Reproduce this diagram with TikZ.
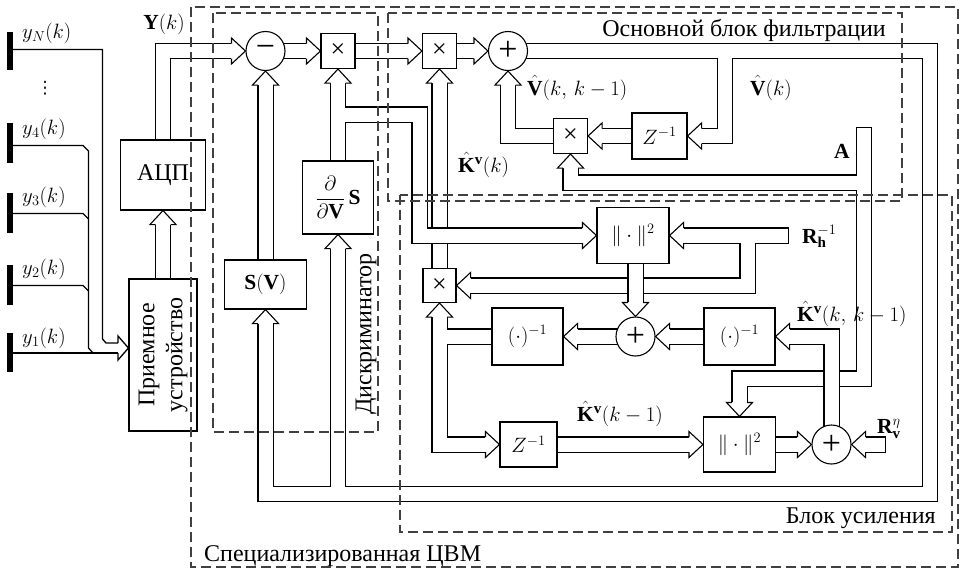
\documentclass[tikz,border=0pt]{standalone}
\usepackage{fontspec}
\setmainfont{Liberation Serif}
\newfontfamily\dejavu{DejaVu Sans}
\usetikzlibrary{calc}
\pgfdeclarelayer{fg}
\pgfdeclarelayer{top}
\pgfsetlayers{main,fg,top}
\tikzset{
  box/.style={draw, fill=white, line width=1.1pt, inner sep=0pt, rectangle},
  mul/.style={box, minimum width=34pt, minimum height=35pt, font=\fontsize{26}{26}\selectfont},
  circ/.style={draw, fill=white, line width=1.1pt, circle, minimum size=39pt, inner sep=0pt, font=\fontsize{34}{34}\selectfont},
  busout/.style={line width=16.2pt, draw=black, line join=miter},
  busin/.style={line width=14pt, draw=white, line join=miter},
  dbox/.style={draw=black!75, line width=1.1pt, dash pattern=on 10pt off 5pt},
  rtext/.style={font=\fontsize{24}{28}\selectfont},
  lbl/.style={inner sep=1pt},
  inline/.style={line width=1.3pt},
  pics/ahead/.style={code={\draw[fill=white, line width=1.1pt, line join=miter] (-14,7.5) -- (-14,13) -- (0,0) -- (-14,-13) -- (-14,-7.5);}},
}
\newcommand\bus[1]{\draw[busout] #1; \draw[busin] #1;}
\begin{document}
\begin{tikzpicture}[x=1pt, y=-1pt, line width=1.1pt, font=\fontsize{21.5}{24}\selectfont]
\useasboundingbox (0,0) rectangle (961,568);

\begin{pgfonlayer}{fg}
\node[circ] (c1) at (265.5,51) {−};
\node[mul] (m1) at (338,51) {×};
\node[mul] (m2) at (439.5,51) {×};
\node[circ] (c2) at (508,51) {+};
\node[box, minimum width=55pt, minimum height=46pt] (z1) at (659.5,136) {$Z^{-1}$};
\node[mul] (m3) at (570.5,136) {×};
\node[box, minimum width=85pt, minimum height=70pt, rtext] (adc) at (163,175) {АЦП};
\node[box, rotate=90, minimum width=152pt, minimum height=68pt, align=center, rtext] (rx) at (163,355) {Приемное\\устройство};
\node[box, minimum width=82pt, minimum height=49pt] (sv) at (265.5,284.5) {$\mathbf{S}(\mathbf{V})$};
\node[box, minimum width=71pt, minimum height=73pt] (ds) at (338,197.5) {$\displaystyle\frac{\partial}{\partial\mathbf{V}}\,\mathbf{S}$};
\node[box, minimum width=72pt, minimum height=56pt] (n1) at (633,235.5) {$\|\cdot\|^2$};
\node[mul, minimum width=33pt, minimum height=34pt] (m4) at (439.5,285.5) {×};
\node[circ] (c3) at (635.5,336.5) {+};
\node[box, minimum width=71pt, minimum height=57pt] (i1) at (527.5,336.5) {$(\cdot)^{-1}$};
\node[box, minimum width=71pt, minimum height=57pt] (i2) at (739.5,336.5) {$(\cdot)^{-1}$};
\node[box, minimum width=57pt, minimum height=45pt] (z2) at (528.5,444.5) {$Z^{-1}$};
\node[box, minimum width=72pt, minimum height=55pt] (n2) at (739.5,444.5) {$\|\cdot\|^2$};
\node[circ] (c4) at (831.5,444.5) {+};

% labels
\node[lbl] (lY) at (164,24) {$\mathbf{Y}(k)$};
\node[lbl, anchor=base west] (lyN) at (21,38) {$y_N(k)$};
\node[lbl, font=\dejavu\fontsize{17}{17}\selectfont] (ldots) at (45,88) {⋮};
\node[lbl, anchor=base west] (ly4) at (21,134) {$y_4(k)$};
\node[lbl, anchor=base west] (ly3) at (21,202) {$y_3(k)$};
\node[lbl, anchor=base west] (ly2) at (21,274) {$y_2(k)$};
\node[lbl, anchor=base west] (ly1) at (21,343) {$y_1(k)$};
\node[lbl, anchor=base west] (lVp) at (526,95) {$\hat{\mathbf{V}}(k,\,k-1)$};
\node[lbl, anchor=base west] (lV) at (749,95) {$\hat{\mathbf{V}}(k)$};
\node[lbl, anchor=base west] (lA) at (833,158) {$\mathbf{A}$};
\node[lbl, anchor=base west] (lK) at (457,172) {$\hat{\mathbf{K}}^{\mathbf{v}}(k)$};
\node[lbl, anchor=base west] (lRh) at (801,243) {$\mathbf{R}_{\mathbf{h}}^{-1}$};
\node[lbl, anchor=base west] (lKp) at (796,321) {$\hat{\mathbf{K}}^{\mathbf{v}}(k,\,k-1)$};
\node[lbl, anchor=base west] (lKm) at (576,421) {$\hat{\mathbf{K}}^{\mathbf{v}}(k-1)$};
\node[lbl, anchor=base west] (lRv) at (876,433) {$\mathbf{R}_{\mathbf{v}}^{\eta}$};
\node[lbl, anchor=base west, rtext] (tcvm) at (203,561) {Специализированная ЦВМ};
\node[lbl, anchor=base east, rtext] (tfil) at (887,36) {Основной блок фильтрации};
\node[lbl, anchor=base east, rtext] (tgain) at (937,523) {Блок усиления};
\node[lbl, rotate=90, rtext] (tdisc) at (366,334) {Дискриминатор};
\end{pgfonlayer}

% antennas and input lines
\foreach \a/\b in {32/70, 123/163, 193/233, 265/305, 333/372} \draw[line width=6pt] (10,\a) -- (10,\b);
\coordinate (rxin) at ([yshift=7pt]rx.north);
\draw[inline] (10,49.5) -- (102.5,49.5) -- (102.5,339) -- (106,343) -- (118,343);
\draw[inline] (10,145.5) -- (83,145.5) -- (88.5,151) -- (88.5,348) -- (93,353);
\draw[inline] (10,213.5) -- (83,213.5) -- (88.5,219);
\draw[inline] (10,285.5) -- (83,285.5) -- (88.5,291);
\draw[inline] (10,353) -- (118,353);
\draw[inline, fill=white, line join=miter] (118,343) -- (118,336) -- (rxin) -- (118,360) -- (118,353);

% buses
\bus{(rx.center) -- ([yshift=-14pt]adc.south)}
\bus{(adc.center) |- ([xshift=-14pt]c1.west)}
\bus{(c1 |- sv.center) -- ([yshift=-14pt]c1.south)}
\bus{(c1.center) -- ([xshift=-14pt]m1.west)}
\bus{(m1.center) -- ([xshift=-14pt]m2.west)}
\bus{(m2.center) -- ([xshift=-14pt]c2.west)}
\bus{(m4.center) -- ([yshift=-14pt]m2.south)}
\bus{(ds.center) -- ([yshift=-14pt]m1.south) (338,114.5) -| (419.5,235.5) -- ([xshift=-14pt]n1.west)}
\bus{(c2.center) -- (930,51) -- (930,494) -- (265.5,494) -- ([yshift=-14pt]sv.south) (725,51) |- ([xshift=14pt]z1.east) (338,494) -- ([yshift=-14pt]ds.south)}
\bus{(z1.center) -- ([xshift=14pt]m3.east)}
\bus{(m3.center) -| ([yshift=-14pt]c2.south)}
\bus{(864,127) -- (864,378.5) -| ([yshift=14pt]n2.north) (864,182.5) -| ([yshift=-14pt]m3.south)}
\draw (855.9,127) -- (872.1,127);
\bus{(788,235.5) -- ([xshift=14pt]n1.east) (747.5,235.5) |- ([xshift=14pt]m4.east)}
\draw (788,227.4) -- (788,243.6);
\bus{(c3 |- n1.center) -- ([yshift=14pt]c3.north)}
\bus{(i2.center) -- ([xshift=14pt]c3.east)}
\bus{(c3.center) -- ([xshift=14pt]i1.east)}
\bus{(i1.center) -- (m4 |- i1.center) ([yshift=-14pt]m4.south) |- ([xshift=-14pt]z2.west)}
\bus{(z2.center) -- ([xshift=-14pt]n2.west)}
\bus{(n2.center) -- ([xshift=-14pt]c4.west)}
\bus{(885,444.5) -- ([xshift=14pt]c4.east)}
\draw (885,436.4) -- (885,452.6);
\bus{(c4.center) |- ([xshift=14pt]i2.east)}

% arrowheads
\foreach \t in {c1.west, m1.west, m2.west, c2.west, n1.west, z2.west, n2.west, c4.west} \pic at (\t) {ahead};
\foreach \t in {c1.south, m1.south, m2.south, c2.south, adc.south, sv.south, ds.south, m3.south, m4.south} \pic[rotate=90] at (\t) {ahead};
\foreach \t in {z1.east, m3.east, n1.east, m4.east, c3.east, i1.east, c4.east, i2.east} \pic[rotate=180] at (\t) {ahead};
\foreach \t in {c3.north, n2.north} \pic[rotate=270] at (\t) {ahead};

\begin{pgfonlayer}{top}
\draw[dbox] (191,7) rectangle (958,567);
\draw[dbox] (213,13) rectangle (378,432);
\draw[dbox] (388,13) rectangle (902,201);
\draw[dbox] (400,195) rectangle (952,532);
\end{pgfonlayer}
\end{tikzpicture}
\end{document}
